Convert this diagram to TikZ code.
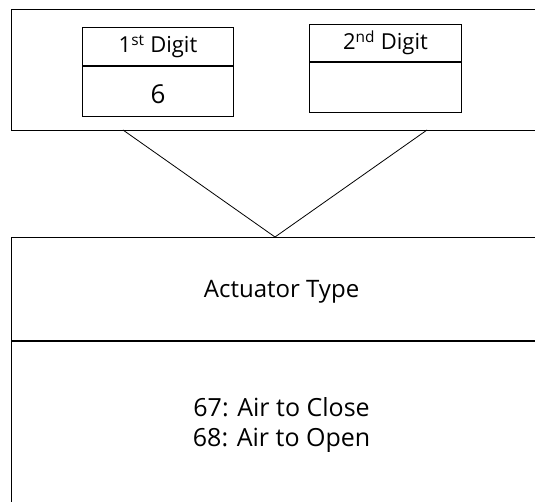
\documentclass[tikz,border=0pt]{standalone}
\usepackage{fontspec}
\setmainfont{Open Sans}
\usetikzlibrary{positioning}
\tikzset{>=latex}
\tikzset{frame/.style={draw,line width=1.2pt,inner sep=0pt,anchor=north west}}
\tikzset{cell/.style={draw,line width=1pt,inner sep=0pt,anchor=north west,font=\fontsize{22}{26}\selectfont}}

\begin{document}
\begin{tikzpicture}[x=1pt,y=-1pt]
  \useasboundingbox (0,0) rectangle (535,502);
  \clip (0,0) rectangle (535,502);
  % Code frame
  \node[frame,minimum width=540pt,minimum height=121pt] (code) at (11,9) {};
  \node[cell,minimum width=151pt,minimum height=38pt] (first) at (82,27) {1\textsuperscript{st} Digit};
  \node[cell,minimum width=151pt,minimum height=50pt,below=0pt of first,text height=24pt,text depth=0pt,font=\fontsize{26}{30}\selectfont] (firstval) {6};
  \node[cell,minimum width=152pt,minimum height=37pt] (second) at (309,24) {2\textsuperscript{nd} Digit};
  \node[cell,minimum width=152pt,minimum height=50pt,below=0pt of second] (secondval) {};
  % Type frame
  \node[frame,minimum width=540pt,minimum height=103pt,text depth=0pt,font=\fontsize{24}{30}\selectfont] (type) at (11,237) {Actuator Type};
  \node[frame,minimum width=540pt,minimum height=166pt,below=0pt of type,align=center,font=\fontsize{25}{30}\selectfont] (codes) {67: Air to Close\\68: Air to Open};
  % Lines
  \coordinate (vl) at (123,130);
  \coordinate (vr) at (427,130);
  \coordinate (vtip) at (275,237);
  \draw[line width=0.8pt] (vl) -- (vtip) -- (vr);
\end{tikzpicture}
\end{document}
